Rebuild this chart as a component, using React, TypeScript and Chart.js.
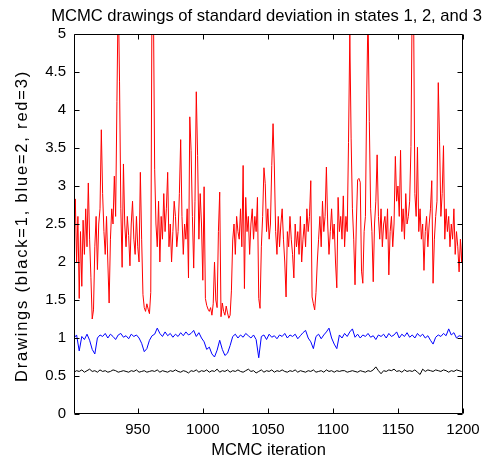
import { useEffect, useRef } from "react";
import { Chart, registerables } from "chart.js";

Chart.register(...registerables);

const TITLE = "MCMC drawings of standard deviation in states 1, 2, and 3";
const X_TITLE = "MCMC iteration";
const Y_TITLE = "Drawings (black=1, blue=2, red=3)";

const xTicks = [950, 1000, 1050, 1100, 1150, 1200];
const yTicks = [0, 0.5, 1, 1.5, 2, 2.5, 3, 3.5, 4, 4.5, 5];

const redStart = 901;
const redStep = 1;
const red = [
  2.3, 2.83, 2.0, 2.6, 1.52, 2.4, 1.68, 2.55, 2.1, 2.7,
  2.2, 3.04, 2.3, 1.8, 1.25, 1.37, 2.2, 2.6, 1.9, 2.5,
  2.7, 3.74, 2.9, 2.4, 2.1, 2.6, 2.0, 1.46, 2.3, 2.7,
  2.5, 3.13, 2.6, 4.11, 5.6, 4.37, 2.7, 1.93, 3.29, 2.5,
  2.2, 2.6, 2.35, 1.95, 2.5, 2.8, 2.3, 2.1, 2.6, 2.2,
  2.0, 3.18, 2.3, 1.57, 1.4, 1.35, 1.45, 1.38, 1.32, 1.6,
  5.8, 5.5, 3.22, 2.5, 2.2, 2.8, 2.0, 2.6, 2.3, 2.9,
  2.4, 2.7, 3.18, 2.2, 2.5, 2.0, 2.4, 2.8, 2.6, 2.2,
  2.4, 2.9, 3.61, 2.6, 2.1, 2.5, 2.3, 2.7, 1.79, 3.91,
  3.47, 2.6, 1.92, 2.8, 4.24, 3.4, 2.3, 2.9, 2.5, 1.76,
  2.99, 1.52, 1.43, 1.38, 1.35, 1.4, 1.3, 1.45, 2.0, 1.5,
  1.4, 2.4, 2.92, 1.28, 1.46, 1.35, 1.3, 1.42, 1.33, 1.26,
  1.3, 1.62, 2.29, 2.5, 2.1, 2.6, 2.4, 2.3, 2.7, 2.2,
  3.27, 1.65, 2.85, 2.4, 2.6, 2.1, 2.5, 2.7, 2.3, 2.6,
  2.4, 2.85, 1.52, 1.39, 2.2, 2.6, 3.24, 3.03, 2.4, 2.7,
  2.3, 2.5, 3.27, 3.82, 3.25, 2.4, 2.1, 2.6, 2.2, 2.5,
  2.7, 2.3, 2.0, 1.54, 2.4, 2.2, 2.6, 2.3, 2.1, 1.79,
  2.5, 2.2, 2.4, 2.1, 2.6, 2.0, 2.3, 2.5, 2.2, 2.7,
  2.4, 2.6, 3.07, 1.54, 1.45, 1.37, 1.6, 2.0, 2.3, 2.6,
  2.2, 2.8, 2.4, 2.6, 3.25, 2.5, 2.1, 2.4, 2.7, 2.3,
  2.5, 2.0, 1.66, 2.85, 2.4, 2.6, 2.3, 2.87, 2.2, 2.6,
  2.4, 3.57, 5.0, 3.63, 2.7, 2.3, 1.7, 2.5, 3.08, 3.1,
  3.05, 1.88, 1.72, 2.4, 2.6, 4.21, 5.3, 3.85, 2.7, 2.4,
  1.74, 2.5, 2.8, 3.41, 2.6, 2.3, 2.7, 2.2, 2.5, 2.6,
  2.3, 2.7, 1.83, 2.4, 2.6, 2.2, 2.5, 3.39, 2.8, 3.0,
  2.6, 3.47, 2.4, 2.7, 2.3, 2.9, 2.5, 2.6, 2.8, 3.52,
  5.6, 5.4, 2.9, 2.6, 3.51, 2.4, 2.7, 2.3, 2.5, 1.89,
  2.4, 2.6, 2.2, 2.5, 2.7, 3.07, 1.72, 2.3, 2.6, 2.8,
  4.36, 3.58, 2.6, 2.9, 3.53, 2.3, 2.7, 2.4, 2.6, 2.2,
  2.5, 2.3, 2.7, 2.1, 2.4, 2.2, 1.87, 2.3, 2.0, 2.45,
];

const blueStart = 901;
const blueStep = 2;
const blue = [
  1.0, 1.04, 0.83, 1.02, 0.98, 1.05, 0.97, 0.85, 0.79, 1.0,
  1.04, 1.02, 1.06, 1.0, 1.05, 1.02, 0.98, 1.04, 1.06, 1.01,
  1.03, 0.99, 1.05, 1.02, 1.04, 1.0, 0.93, 0.82, 0.86, 0.97,
  1.03, 1.05, 1.13, 1.06, 1.02, 1.08, 1.03, 1.06, 1.01, 1.05,
  1.02, 1.07, 1.03, 1.08, 1.04, 1.06, 1.1, 1.02, 1.07, 1.0,
  0.95, 0.85, 0.88, 0.79, 0.75, 0.84, 0.97, 0.85, 0.77, 0.8,
  0.9, 1.02, 1.05, 1.0, 1.04, 1.01, 1.06, 1.03, 1.0, 1.04,
  0.98, 0.74, 1.02, 1.04, 0.98, 1.05, 1.01, 1.03, 0.99, 1.04,
  1.02, 1.06, 1.0, 1.04, 1.02, 1.05, 0.99, 1.03, 1.07, 1.1,
  1.0, 0.95, 0.86, 1.02, 1.05, 0.99, 1.04, 1.08, 1.13, 1.0,
  0.92, 0.86, 1.04, 1.0, 1.06, 1.02, 1.08, 1.12, 1.01, 1.05,
  1.0, 1.04, 1.02, 1.06, 1.01, 1.03, 0.98, 1.04, 1.02, 1.05,
  1.0, 1.06, 1.02, 1.04, 1.08, 1.0, 1.05, 1.02, 1.07, 1.01,
  1.04, 1.0, 1.06, 1.02, 1.05, 1.0, 1.03, 0.97, 0.92, 1.01,
  1.04, 1.02, 1.06, 1.03, 1.12, 1.04, 1.07, 1.0, 1.03, 1.02,
];

const blackStart = 901;
const blackStep = 2;
const black = [
  0.55, 0.57, 0.56, 0.58, 0.55, 0.57, 0.59, 0.56, 0.57, 0.55,
  0.58, 0.56, 0.57, 0.55, 0.56, 0.58, 0.57, 0.55, 0.56, 0.57,
  0.56, 0.55, 0.57, 0.56, 0.58, 0.55, 0.56, 0.57, 0.55, 0.56,
  0.57, 0.56, 0.58, 0.55, 0.57, 0.56, 0.55, 0.57, 0.56, 0.58,
  0.56, 0.55, 0.57, 0.56, 0.54, 0.57, 0.56, 0.58, 0.55, 0.57,
  0.56, 0.58, 0.55, 0.57, 0.56, 0.59, 0.55, 0.57, 0.56, 0.58,
  0.55, 0.57, 0.56, 0.58, 0.56, 0.55, 0.57, 0.59, 0.56, 0.57,
  0.54, 0.56, 0.58, 0.55, 0.57, 0.56, 0.58, 0.55, 0.57, 0.56,
  0.58, 0.56, 0.55, 0.57, 0.56, 0.58, 0.55, 0.57, 0.56, 0.55,
  0.57, 0.56, 0.58, 0.55, 0.56, 0.57, 0.55, 0.58, 0.56, 0.57,
  0.55, 0.57, 0.56, 0.57, 0.57, 0.55, 0.56, 0.57, 0.56, 0.55,
  0.57, 0.56, 0.55, 0.57, 0.56, 0.58, 0.62, 0.57, 0.53, 0.57,
  0.56, 0.58, 0.57, 0.59, 0.56, 0.57, 0.55, 0.58, 0.56, 0.57,
  0.56, 0.58, 0.55, 0.52, 0.59, 0.56, 0.58, 0.57, 0.56, 0.58,
  0.57, 0.56, 0.58, 0.57, 0.55, 0.57, 0.56, 0.58, 0.57, 0.56,
];

const toPoints = (vals: number[], start: number, step: number) =>
  vals.map((y, i) => ({ x: start + i * step, y }));

const FONT = "'Liberation Sans', Arial, Helvetica, sans-serif";

const titlesPlugin = {
  id: "matlabTitles",
  afterDraw(chart: any) {
    const { ctx, chartArea } = chart;
    ctx.save();
    ctx.fillStyle = "#000";
    ctx.textAlign = "center";
    ctx.textBaseline = "middle";
    ctx.font = `16.6px ${FONT}`;
    ctx.fillText(TITLE, (chartArea.left + chartArea.right) / 2 - 2, 16);
    ctx.restore();

    ctx.save();
    ctx.fillStyle = "#000";
    ctx.textAlign = "center";
    ctx.textBaseline = "middle";
    ctx.font = `16.5px ${FONT}`;
    try {
      (ctx as any).letterSpacing = "1.8px";
    } catch (e) {
      /* ignore */
    }
    ctx.translate(22, (chartArea.top + chartArea.bottom) / 2 + 2);
    ctx.rotate(-Math.PI / 2);
    ctx.fillText(Y_TITLE, 0, 0);
    ctx.restore();
  },
};

const boxPlugin = {
  id: "matlabBox",
  afterDraw(chart: any) {
    const { ctx, chartArea } = chart;
    const { left, right, top, bottom } = chartArea;
    const xs = chart.scales.x;
    const ys = chart.scales.y;
    const L = Math.round(left) + 0.5;
    const R = Math.round(right) - 0.5;
    const T = Math.round(top) + 0.5;
    const B = Math.round(bottom) - 0.5;
    const len = 5;
    ctx.save();
    ctx.strokeStyle = "#000";
    ctx.lineWidth = 1;
    ctx.beginPath();
    ctx.rect(L, T, R - L, B - T);
    for (const v of xTicks) {
      const px = Math.round(xs.getPixelForValue(v)) + 0.5;
      ctx.moveTo(px, B);
      ctx.lineTo(px, B - len);
      ctx.moveTo(px, T);
      ctx.lineTo(px, T + len);
    }
    for (const v of yTicks) {
      const py = Math.round(ys.getPixelForValue(v)) + 0.5;
      ctx.moveTo(L, py);
      ctx.lineTo(L + len, py);
      ctx.moveTo(R, py);
      ctx.lineTo(R - len, py);
    }
    ctx.stroke();
    ctx.restore();
  },
};

export default function App() {
  const ref = useRef<HTMLCanvasElement | null>(null);

  useEffect(() => {
    document.body.style.margin = "0";
    document.body.style.background = "#fff";
    const canvas = ref.current;
    if (!canvas) return;
    const chart = new Chart(canvas, {
      type: "line",
      data: {
        datasets: [
          {
            label: "red=3",
            data: toPoints(red, redStart, redStep),
            borderColor: "#ff0000",
            borderWidth: 1,
            pointRadius: 0,
            tension: 0,
          },
          {
            label: "blue=2",
            data: toPoints(blue, blueStart, blueStep),
            borderColor: "#0000ff",
            borderWidth: 1,
            pointRadius: 0,
            tension: 0,
          },
          {
            label: "black=1",
            data: toPoints(black, blackStart, blackStep),
            borderColor: "#000000",
            borderWidth: 1,
            pointRadius: 0,
            tension: 0,
          },
        ],
      },
      options: {
        animation: false,
        responsive: false,
        devicePixelRatio: 1,
        layout: { padding: { left: 0, right: 25, top: 34, bottom: 0 } },
        plugins: {
          legend: { display: false },
          tooltip: { enabled: false },
          title: { display: false },
        },
        scales: {
          x: {
            type: "linear",
            min: 901,
            max: 1200,
            afterBuildTicks: (s: any) => {
              s.ticks = xTicks.map((v) => ({ value: v }));
            },
            afterFit: (s: any) => {
              s.height = 50;
            },
            grid: { display: false, drawTicks: false },
            border: { display: false },
            ticks: {
              color: "#000",
              font: { family: FONT, size: 15 },
              padding: 7,
              maxRotation: 0,
              autoSkip: false,
              callback: (v: any) => String(v),
            },
            title: {
              display: true,
              text: X_TITLE,
              color: "#000",
              font: { family: FONT, size: 16.5 },
              padding: { top: 0, bottom: 4 },
            },
          },
          y: {
            type: "linear",
            min: 0,
            max: 5,
            afterBuildTicks: (s: any) => {
              s.ticks = yTicks.map((v) => ({ value: v }));
            },
            afterFit: (s: any) => {
              s.width = 74;
            },
            grid: { display: false, drawTicks: false },
            border: { display: false },
            ticks: {
              color: "#000",
              font: { family: FONT, size: 15 },
              padding: 8,
              autoSkip: false,
              callback: (v: any) => String(v),
            },
            title: { display: false },
          },
        },
      },
      plugins: [boxPlugin, titlesPlugin],
    });
    return () => chart.destroy();
  }, []);

  return (
    <div style={{ position: "absolute", left: 0, top: 0, width: 488, height: 464 }}>
      <canvas ref={ref} width={488} height={464} style={{ width: 488, height: 464 }} />
    </div>
  );
}
